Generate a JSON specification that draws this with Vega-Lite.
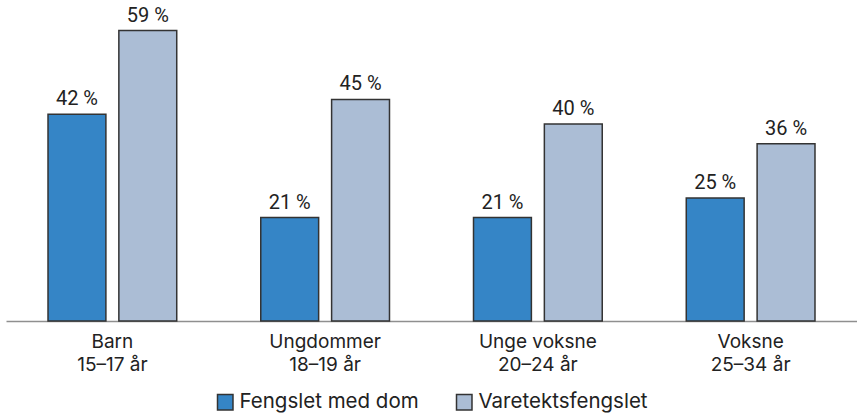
{
  "$schema": "https://vega.github.io/schema/vega-lite/v6.json",
  "width": 851,
  "height": 320,
  "autosize": {"type": "none"},
  "padding": {"left": 6, "top": 1, "right": 0, "bottom": 94},
  "background": "white",
  "config": {
    "view": {"stroke": null},
    "font": "Inter",
    "text": {"font": "Roboto"}
  },
  "data": {
    "values": [
      {"gruppe": "Barn|15–17 år", "serie": "Fengslet med dom", "verdi": 42, "etikett": "42 %"},
      {"gruppe": "Barn|15–17 år", "serie": "Varetektsfengslet", "verdi": 59, "etikett": "59 %"},
      {"gruppe": "Ungdommer|18–19 år", "serie": "Fengslet med dom", "verdi": 21, "etikett": "21 %"},
      {"gruppe": "Ungdommer|18–19 år", "serie": "Varetektsfengslet", "verdi": 45, "etikett": "45 %"},
      {"gruppe": "Unge voksne|20–24 år", "serie": "Fengslet med dom", "verdi": 21, "etikett": "21 %"},
      {"gruppe": "Unge voksne|20–24 år", "serie": "Varetektsfengslet", "verdi": 40, "etikett": "40 %"},
      {"gruppe": "Voksne|25–34 år", "serie": "Fengslet med dom", "verdi": 25, "etikett": "25 %"},
      {"gruppe": "Voksne|25–34 år", "serie": "Varetektsfengslet", "verdi": 36, "etikett": "36 %"}
    ]
  },
  "encoding": {
    "x": {
      "field": "gruppe",
      "type": "nominal",
      "sort": null,
      "scale": {"paddingInner": 0.335, "paddingOuter": 0.1675},
      "axis": {
        "title": null,
        "labelExpr": "split(datum.label, '|')",
        "labelAngle": 0,
        "labelFont": "Inter",
        "labelFontSize": 19,
        "labelColor": "#222222",
        "labelLineHeight": 23.5,
        "labelPadding": 11,
        "labelLimit": 300,
        "ticks": false,
        "domainColor": "#8f8f8f",
        "domainWidth": 1.5
      }
    },
    "xOffset": {
      "field": "serie",
      "type": "nominal",
      "sort": ["Fengslet med dom", "Varetektsfengslet"],
      "scale": {"paddingInner": 0.183, "paddingOuter": 0.09}
    },
    "y": {
      "field": "verdi",
      "type": "quantitative",
      "scale": {"domain": [0, 65]},
      "axis": null
    }
  },
  "layer": [
    {
      "mark": {"type": "bar", "stroke": "#333333", "strokeWidth": 1.5},
      "encoding": {
        "color": {
          "field": "serie",
          "type": "nominal",
          "scale": {
            "domain": ["Fengslet med dom", "Varetektsfengslet"],
            "range": ["#3585c6", "#abbdd5"]
          },
          "legend": {
            "title": null,
            "orient": "none",
            "legendX": 209,
            "legendY": 391,
            "direction": "horizontal",
            "symbolType": "square",
            "symbolSize": 240,
            "symbolStrokeColor": "#333333",
            "symbolStrokeWidth": 1.5,
            "labelFont": "Inter",
            "labelFontSize": 20.5,
            "labelLimit": 300,
            "labelColor": "#222222",
            "columnPadding": 34,
            "labelOffset": 4
          }
        }
      }
    },
    {
      "mark": {"type": "text", "baseline": "alphabetic", "dy": -9, "fontSize": 20, "font": "Roboto", "color": "#222222"},
      "encoding": {
        "text": {"field": "etikett", "type": "nominal"}
      }
    }
  ]
}
